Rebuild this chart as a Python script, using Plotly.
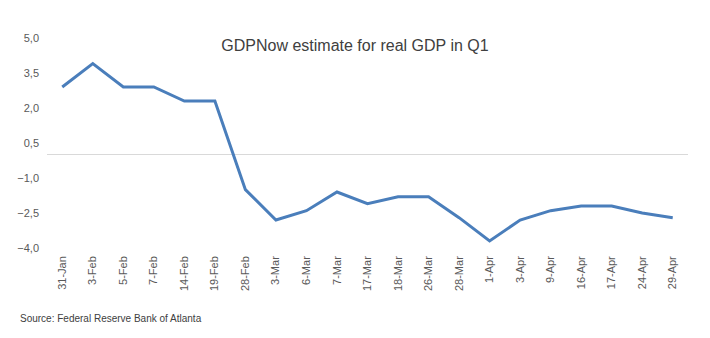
import plotly.graph_objects as go

dates = ["31-Jan", "3-Feb", "5-Feb", "7-Feb", "14-Feb", "19-Feb", "28-Feb", "3-Mar", "6-Mar",
         "7-Mar", "17-Mar", "18-Mar", "26-Mar", "28-Mar", "1-Apr", "3-Apr", "9-Apr",
         "16-Apr", "17-Apr", "24-Apr", "29-Apr"]
gdpnow = [2.9, 3.9, 2.9, 2.9, 2.3, 2.3, -1.5, -2.8, -2.4, -1.6, -2.1, -1.8, -1.8, -2.7,
          -3.7, -2.8, -2.4, -2.2, -2.2, -2.5, -2.7]
y_ticks = [5.0, 3.5, 2.0, 0.5, -1.0, -2.5, -4.0]

font_family = "Liberation Sans, Arial, sans-serif"

fig = go.Figure()
fig.add_trace(go.Scatter(x=dates, y=gdpnow, mode="lines",
                         line=dict(color="#4a7ebb", width=3)))

fig.update_layout(
    width=710, height=338,
    margin=dict(l=47, r=22, t=38, b=90),
    paper_bgcolor="white", plot_bgcolor="white",
    showlegend=False,
    separators=", ",
    font=dict(family=font_family, color="#595959", size=11),
    title=dict(text="GDPNow estimate for real GDP in Q1", x=0.5, xanchor="center",
               y=1 - 45 / 338, yanchor="middle",
               font=dict(size=16, color="#404040", family=font_family)),
    xaxis=dict(type="category", range=[-0.5, len(dates) - 0.5], tickangle=-90,
               showgrid=False, showline=False, zeroline=False, ticks="",
               ticklabelstandoff=5, tickfont=dict(size=11, color="#595959")),
    yaxis=dict(range=[-4, 5], tickvals=y_ticks, tickformat=".1f", showgrid=False,
               zeroline=True, zerolinecolor="#d9d9d9", zerolinewidth=1,
               showline=False, ticks="", ticklabelstandoff=7,
               tickfont=dict(size=11, color="#595959")),
    annotations=[dict(text="Source: Federal Reserve Bank of Atlanta", xref="paper", yref="paper",
                      x=-29 / 641, y=-(318 - 248) / 210, xanchor="left", yanchor="middle",
                      showarrow=False, font=dict(size=10, color="#404040"))],
)

fig.write_html("out.html")
